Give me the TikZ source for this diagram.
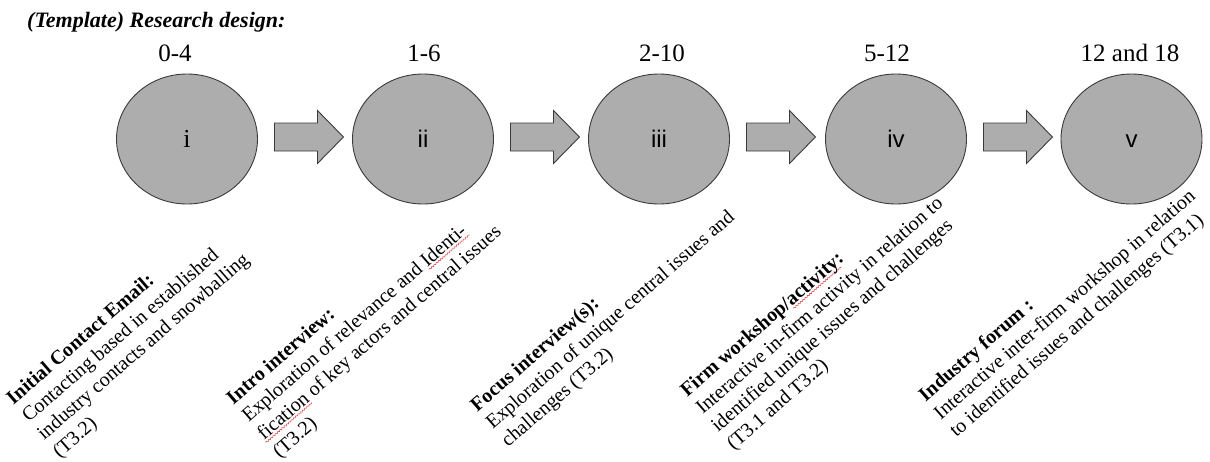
\documentclass[tikz,border=0pt]{standalone}
\usepackage{fontspec}
\setmainfont{Liberation Serif}
\newfontfamily\arialf{Liberation Sans}
\usetikzlibrary{shapes.geometric,decorations.pathmorphing,calc}
\definecolor{stagefill}{HTML}{ADADAD}
\definecolor{stageline}{HTML}{3A3A3A}
\definecolor{squigred}{HTML}{E03030}
\newsavebox\squigbox
\newcommand\squig[1]{\sbox\squigbox{#1}\rlap{\tikz[overlay,reset cm]\draw[squigred,line width=0.5pt,decorate,decoration={snake,amplitude=0.7pt,segment length=3pt}] (0pt,-2.6pt) -- (\wd\squigbox,-2.6pt);}\usebox\squigbox}
\tikzset{
  stage/.style={ellipse,draw=stageline,fill=stagefill,line width=0.9pt,minimum width=141pt,minimum height=130pt,inner sep=0pt,text height=17pt,text depth=0pt},
  arrowbody/.style={draw=stageline,fill=stagefill,line width=0.9pt,line join=miter},
  barrow/.pic={\path[arrowbody] (0,-14) -- (43,-14) -- (43,-26.5) -- (69,0) -- (43,26.5) -- (43,14) -- (0,14) -- cycle;},
  numlabel/.style={anchor=base,inner sep=0pt,font=\fontsize{25}{30}\selectfont},
  blocktext/.style={rotate=41,anchor=north west,align=left,inner sep=0pt,font=\fontsize{20}{23.5}\selectfont},
  serifnum/.style={font=\fontsize{26}{30}\selectfont},
  sansnum/.style={font=\arialf\fontsize{24}{28}\selectfont}
}
\begin{document}
\begin{tikzpicture}[x=1pt,y=-1pt]
\fill[white] (0,0) rectangle (1210,461);
\useasboundingbox (0,0) rectangle (1210,461);
% title
\node[anchor=base west,inner sep=0pt,font=\fontsize{22}{26}\selectfont\bfseries\itshape] (title) at (27,27) {(Template) Research design:};
% stages
\node[stage,serifnum] (c1) at (187,139) {i};
\node[stage,sansnum] (c2) at (423,139) {ii};
\node[stage,sansnum] (c3) at (659,139) {iii};
\node[stage,sansnum] (c4) at (896,139) {iv};
\node[stage,sansnum] (c5) at (1131.5,139) {v};
% time labels
\node[numlabel] (n1) at (175,61) {0-4};
\node[numlabel] (n2) at (424,61) {1-6};
\node[numlabel] (n3) at (662,61) {2-10};
\node[numlabel] (n4) at (887,61) {5-12};
\node[numlabel] (n5) at (1130,61) {12 and 18};
% block arrows
\pic at ([xshift=16.5pt,yshift=2pt]c1.east) {barrow};
\pic at ([xshift=16.5pt,yshift=2pt]c2.east) {barrow};
\pic at ([xshift=16.5pt,yshift=2pt]c3.east) {barrow};
\pic at ([xshift=16.5pt,yshift=2pt]c4.east) {barrow};
% descriptions
\node[blocktext] (t1) at (4,394.7) {\textbf{Initial Contact Email:}\\Contacting based in established\\industry contacts and snowballing\\(T3.2)};
\node[blocktext] (t2) at (224,394.7) {\textbf{Intro interview:}\\Exploration of relevance and \squig{Identi-}\\\squig{fication} of key actors and central issues\\(T3.2)};
\node[blocktext] (t3) at (468,401.7) {\textbf{Focus interview(s):}\\Exploration of unique central issues and\\challenges (T3.2)};
\node[blocktext] (t4) at (678,386.7) {\textbf{Firm workshop/\squig{activity}:}\\Interactive in-firm activity in relation to\\identified unique issues and challenges\\(T3.1 and T3.2)};
\node[blocktext] (t5) at (916,391.7) {\textbf{Industry forum :}\\Interactive inter-firm workshop in relation\\to identified issues and challenges (T3.1)};
\end{tikzpicture}
\end{document}
